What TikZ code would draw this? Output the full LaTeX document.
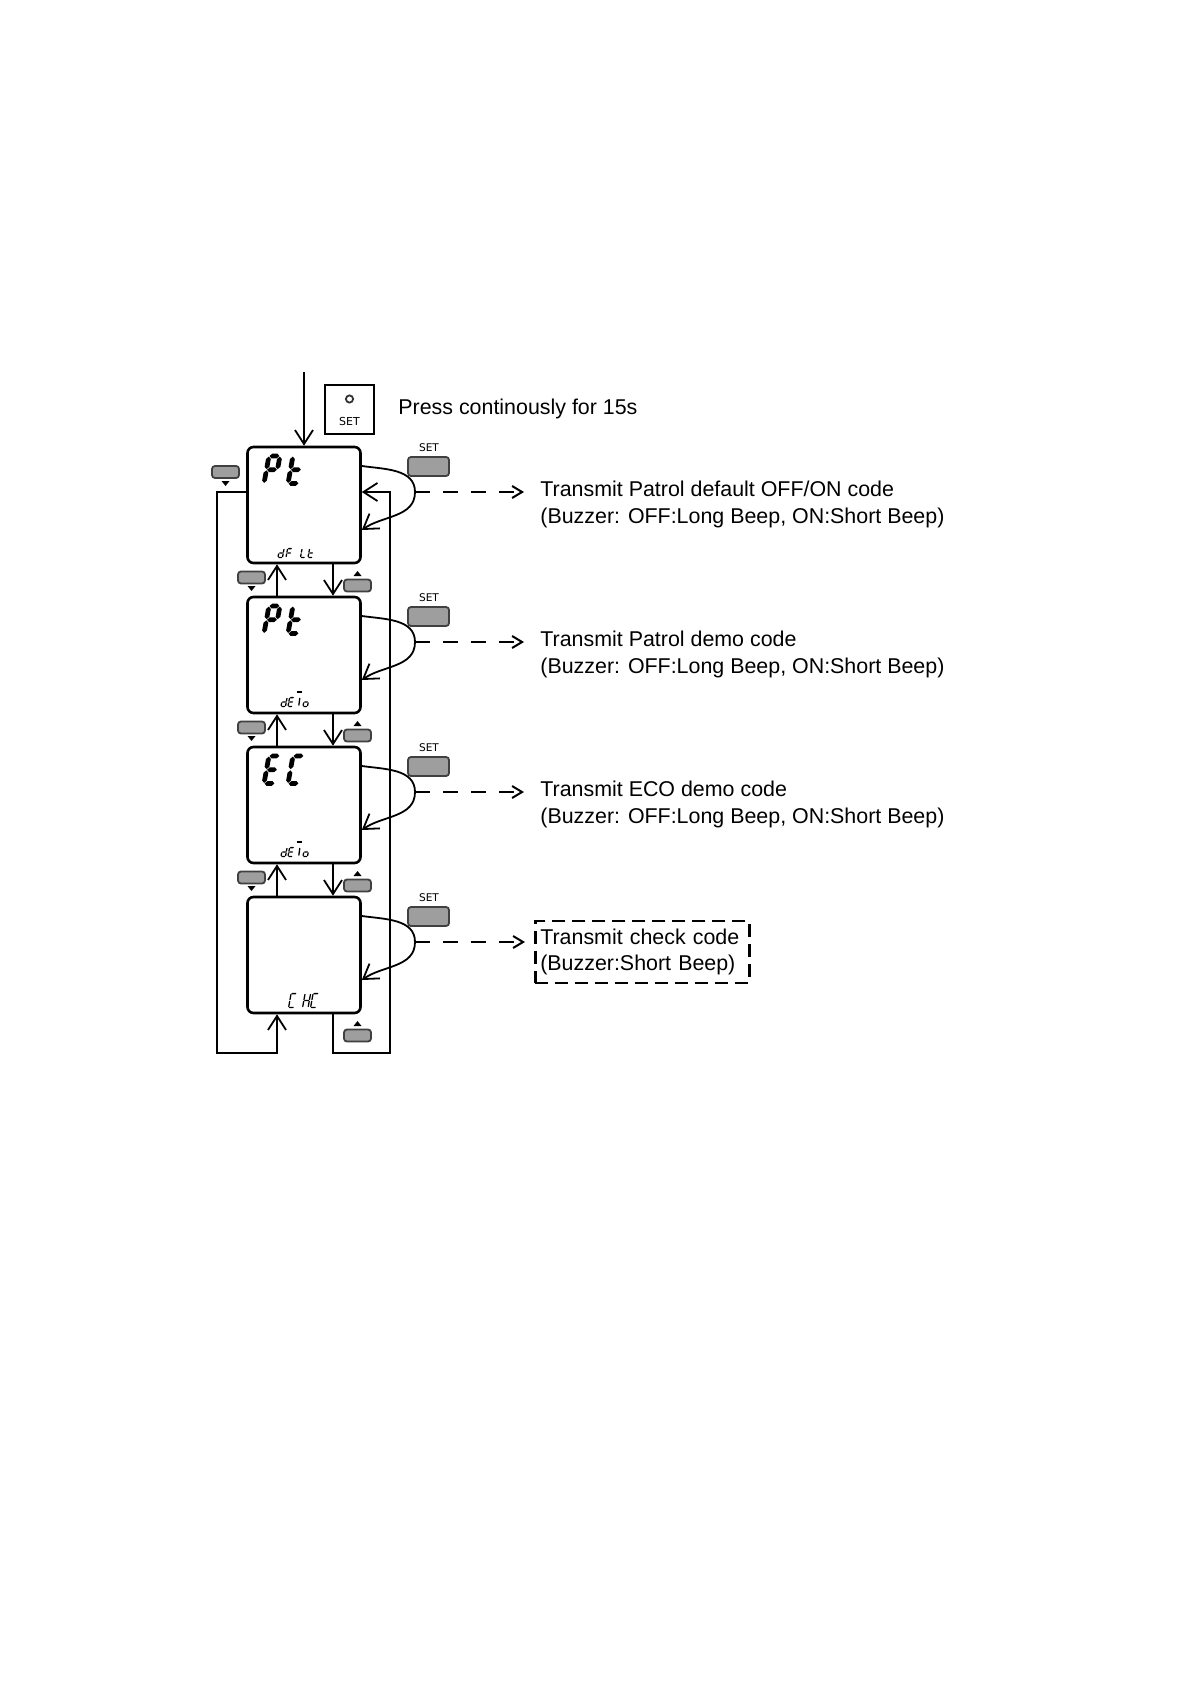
\documentclass[tikz,border=0pt]{standalone}
\usepackage{fontspec}
\newfontfamily\arialf{Liberation Sans}
\newfontfamily\dejaf{DejaVu Sans}
\usetikzlibrary{arrows.meta,calc}

\tikzset{
 lcdbox/.style={draw, line width=1.3pt, rounded corners=3pt, minimum width=56.5pt, minimum height=58pt, inner sep=0pt},
 conn/.style={line width=0.9pt, -{Straight Barb[length=7pt,width=9pt]}},
 dasharrow/.style={line width=1pt, dash pattern=on 7.5pt off 6.5pt, -{Straight Barb[length=5pt,width=6pt]}},
 btn/.style={draw=black!75, fill=black!38, line width=0.9pt, rounded corners=1.5pt, inner sep=0pt},
 setbtn/.style={btn, minimum width=20.5pt, minimum height=9.5pt},
 arrbtn/.style={btn, minimum width=13.5pt, minimum height=6pt},
 desc/.style={font=\arialf\fontsize{10.7}{13.35}\selectfont, align=left, inner sep=0pt, anchor=west},
 setlbl/.style={font=\dejaf\fontsize{5.3}{6}\selectfont, inner sep=0pt},
}

% seven-segment glyphs (local units = px, y downwards, origin = bottom-left)
\newcommand\lcdhs[3]{\fill (#1+\lcdg,#3) -- (#1+\lcdg+\lcdh,#3-\lcdh) -- (#2-\lcdg-\lcdh,#3-\lcdh) -- (#2-\lcdg,#3) -- (#2-\lcdg-\lcdh,#3+\lcdh) -- (#1+\lcdg+\lcdh,#3+\lcdh) -- cycle;}
\newcommand\lcdvs[3]{\fill (#1,#2+\lcdg) -- (#1+\lcdh,#2+\lcdg+\lcdh) -- (#1+\lcdh,#3-\lcdg-\lcdh) -- (#1,#3-\lcdg) -- (#1-\lcdh,#3-\lcdg-\lcdh) -- (#1-\lcdh,#2+\lcdg+\lcdh) -- cycle;}
\def\sega{\lcdhs{0}{\lcdW}{-\lcdH}}
\def\segb{\lcdvs{\lcdW}{-\lcdH}{-\lcdH/2}}
\def\segc{\lcdvs{\lcdW}{-\lcdH/2}{0}}
\def\segd{\lcdhs{0}{\lcdW}{0}}
\def\sege{\lcdvs{0}{-\lcdH/2}{0}}
\def\segf{\lcdvs{0}{-\lcdH}{-\lcdH/2}}
\def\segg{\lcdhs{0}{\lcdW}{-\lcdH/2}}
\newcommand\lcdchar[7]{%
 \begin{scope}[shift={(#1,#2)}, xslant=0.18]
  \def\lcdW{#3}\def\lcdH{#4}\def\lcdh{#5}\def\lcdg{#6}%
  \foreach \s in {#7}{\csname seg\s\endcsname}
 \end{scope}}
\newcommand\tridown[2]{\fill (#1-4,#2) -- (#1+4,#2) -- (#1,#2+5) -- cycle;}
\newcommand\triup[2]{\fill (#1-4,#2+5) -- (#1+4,#2+5) -- (#1,#2) -- cycle;}

\begin{document}
\begin{tikzpicture}[x=0.5pt,y=-0.5pt]
\fill[white] (0,0) rectangle (1190,1684);
\path[use as bounding box] (0,0) rectangle (1190,1684);

% SET key and instruction
\node[draw, line width=1pt, minimum size=24.5pt, inner sep=0pt] (setkey) at (349.5,410) {};
\node[circle, draw=black!80, line width=0.9pt, minimum size=3.6pt, inner sep=0pt] (setled) at (349.5,399) {};
\node[setlbl, font=\dejaf\fontsize{5.5}{6}\selectfont] (setkeylbl) at (349.5,421.5) {SET};
\node[font=\arialf\fontsize{10.7}{13.35}\selectfont, anchor=base west, inner sep=0pt] (press) at (398,415) {Press continously for 15s};

% boxes, SET buttons, self loops
\foreach \k/\T in {1/447,2/597,3/747,4/897}{
 \node[lcdbox] (b\k) at (304,\T+58) {};
 \node[setbtn] (s\k) at (428.5,\T+19.5) {};
 \node[setlbl] (sl\k) at (429,\T+1) {SET};
 \coordinate (a\k) at (415,\T+45);
 \draw[conn] ([yshift=19.5pt]b\k.east) to[out=-8,in=90] (a\k) to[out=-90,in=35] ([yshift=-12.5pt]b\k.east);
}

% input arrow
\coordinate (in) at (304,372);
\draw[conn] (in) -- (b1.north);

% connectors between boxes
\foreach \k/\n in {1/2,2/3,3/4}{
 \draw[conn] ([xshift=-13.5pt]b\n.north) -- ([xshift=-13.5pt]b\k.south);
 \draw[conn] ([xshift=14.5pt]b\k.south) -- ([xshift=14.5pt]b\n.north);
}
% outer loops
\coordinate (LL) at (217,1053);
\coordinate (RR) at (390,1053);
\draw[conn] ([yshift=6.5pt]b1.west) -| (LL) -| ([xshift=-13.5pt]b4.south);
\draw[conn] ([xshift=14.5pt]b4.south) |- (RR) |- ([yshift=6.5pt]b1.east);

% arrow buttons
\node[arrbtn] (dn0) at (225.5,472) {}; \tridown{225.5}{481}
\foreach \k/\B in {1/563,2/713,3/863}{
 \node[arrbtn] (dn\k) at (251.5,\B+14.5) {}; \tridown{251.5}{\B+23}
 \node[arrbtn] (up\k) at (357.5,\B+22.5) {}; \triup{357.5}{\B+8}
}
\node[arrbtn] (up4) at (357.5,1035.5) {}; \triup{357.5}{1021}

% descriptions
\node[desc] (t1) at (540,504.8) {Transmit Patrol default OFF/ON code\\(Buzzer: OFF:Long Beep, ON:Short Beep)};
\node[desc] (t2) at (540,654.8) {Transmit Patrol demo code\\(Buzzer: OFF:Long Beep, ON:Short Beep)};
\node[desc] (t3) at (540,804.8) {Transmit ECO demo code\\(Buzzer: OFF:Long Beep, ON:Short Beep)};
\node[desc, draw, line width=1.3pt, dash pattern=on 6.5pt off 3.5pt, text width=102pt, inner xsep=2.5pt, minimum height=31pt] (t4) at (534,952) {Transmit check code\\(Buzzer:Short Beep)};

\foreach \k in {1,2,3}{
 \draw[dasharrow, shorten >=8pt] (a\k) -- (a\k -| t\k.west);
}
\draw[dasharrow, shorten >=4.5pt] (a4) -- (a4 -| t4.west);

% LCD glyphs: big  (P t / P t / E C)
\foreach \T in {447,597}{
 \lcdchar{264}{\T+36.5}{11}{27.5}{2.4}{0.6}{a,b,e,f,g}
 \lcdchar{288}{\T+36.5}{11}{27.5}{2.4}{0.6}{d,e,f,g}
}
\lcdchar{264}{783.5}{11}{27.5}{2.4}{0.6}{a,d,e,f,g}
\lcdchar{288}{783.5}{11}{27.5}{2.4}{0.6}{a,d,e,f}

% small: dF Lt
\lcdchar{278}{557.4}{4.5}{8.8}{0.65}{0.25}{b,c,d,e,g}
\lcdchar{286}{557.4}{4.5}{8.8}{0.65}{0.25}{a,e,f,g}
\lcdchar{300.5}{557.4}{4.5}{8.8}{0.65}{0.25}{d,e,f}
\lcdchar{308}{557.4}{4.5}{8.8}{0.65}{0.25}{d,e,f,g}
% dE-o (two rows)
\foreach \T in {597,747}{
 \lcdchar{281}{\T+109.4}{4.5}{8.8}{0.65}{0.25}{b,c,d,e,g}
 \lcdchar{288}{\T+109.4}{4.5}{8.8}{0.65}{0.25}{a,d,e,f,g}
 \draw[line width=0.65pt] (296.5,\T+95) -- (301.5,\T+95);
 \draw[line width=0.65pt] (299.8,\T+101) -- (298.8,\T+108.5);
 \lcdchar{303}{\T+109.4}{4.5}{8.8}{0.65}{0.25}{c,d,e,g}
}
% C HC
\lcdchar{288.6}{1007.4}{5.5}{13.8}{0.65}{0.25}{a,d,e,f}
\lcdchar{302.6}{1007.4}{5.5}{13.8}{0.65}{0.25}{b,c,e,f,g}
\lcdchar{310.6}{1007.4}{5.5}{13.8}{0.65}{0.25}{a,d,e,f}
\end{tikzpicture}
\end{document}
